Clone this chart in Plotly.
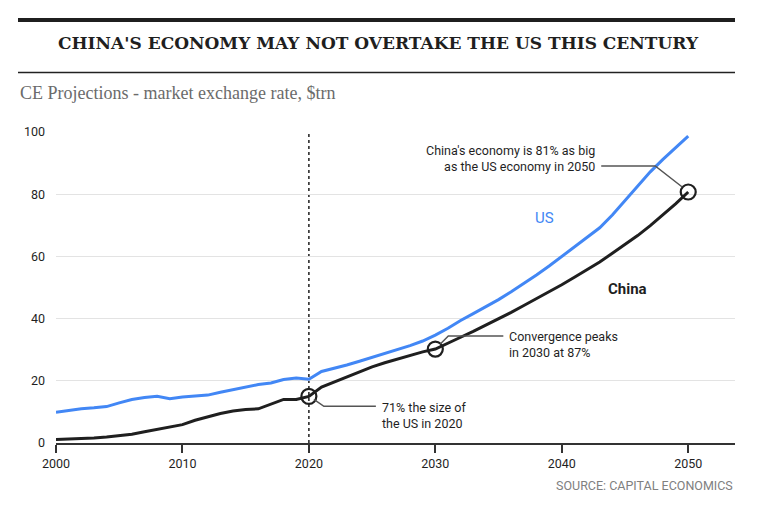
import plotly.graph_objects as go

years = list(range(2000, 2051))
us = [9.9, 10.5, 11.0, 11.3, 11.7, 12.9, 14.0, 14.6, 15.0, 14.2,
      14.8, 15.1, 15.4, 16.3, 17.2, 18.0, 18.8, 19.3, 20.4, 20.9,
      20.5, 23.0, 24.0, 25.1, 26.3, 27.5, 28.8, 30.0, 31.3, 32.8,
      34.7, 36.9, 39.4, 41.6, 43.8, 46.1, 48.6, 51.2, 54.0, 56.9,
      59.9, 63.0, 66.0, 69.2, 73.3, 77.9, 82.6, 87.2, 91.2, 95.0, 98.7]
china = [1.1, 1.2, 1.4, 1.6, 1.9, 2.3, 2.8, 3.6, 4.4, 5.0,
         5.9, 7.3, 8.5, 9.5, 10.3, 10.8, 11.0, 12.4, 14.0, 14.0,
         15.0, 18.0, 19.6, 21.2, 23.0, 24.5, 25.8, 27.0, 28.3, 29.3,
         30.2, 32.0, 34.0, 35.9, 37.9, 39.9, 42.0, 44.2, 46.4, 48.6,
         50.9, 53.3, 55.7, 58.2, 61.0, 63.8, 66.7, 69.9, 73.3, 76.9, 80.7]
highlight_years = [2020, 2030, 2050]
y_ticks = [0, 20, 40, 60, 80, 100]
x_ticks = [2000, 2010, 2020, 2030, 2040, 2050]

BLUE = "#4287f5"
DARK = "#1f1f1f"
SANS = "Roboto, sans-serif"

fig = go.Figure()
fig.add_trace(go.Scatter(x=years, y=us, mode="lines", line=dict(color=BLUE, width=3), hoverinfo="skip"))
fig.add_trace(go.Scatter(x=years, y=china, mode="lines", line=dict(color=DARK, width=3), hoverinfo="skip"))
hl_vals = [china[years.index(y)] for y in highlight_years]
fig.add_trace(go.Scatter(x=highlight_years, y=hl_vals, mode="markers",
                         marker=dict(symbol="circle-open", size=15, color=DARK, line=dict(width=2.2, color=DARK)),
                         hoverinfo="skip"))

# vertical dotted line at 2020
fig.add_shape(type="line", xref="x", yref="y", x0=2020, x1=2020, y0=0, y1=100,
              line=dict(color=DARK, width=1.5, dash="dot"), layer="below")

# leader lines (pixel offsets anchored at highlighted points)
def leader(xa, ya, path):
    fig.add_shape(type="path", xref="x", yref="y", xsizemode="pixel", ysizemode="pixel",
                  xanchor=xa, yanchor=ya, path=path, line=dict(color="#555", width=1.5))

leader(2020, hl_vals[0], "M 5 -3 L 15 -10 L 67 -10")
leader(2030, hl_vals[1], "M 5 5 L 13 13 L 68 13")
leader(2050, hl_vals[2], "M -6 5 L -33 26 L -87 26")

ann_font = dict(family=SANS, size=12.5, color=DARK)
fig.add_annotation(xref="x", yref="y", x=2020, y=hl_vals[0], xshift=71, yshift=-19,
                   text="71% the size of<br>the US in 2020", showarrow=False,
                   xanchor="left", yanchor="middle", align="left", font=ann_font)
fig.add_annotation(xref="x", yref="y", x=2030, y=hl_vals[1], xshift=72, yshift=5,
                   text="Convergence peaks<br>in 2030 at 87%", showarrow=False,
                   xanchor="left", yanchor="middle", align="left", font=ann_font)
fig.add_annotation(xref="x", yref="y", x=2050, y=hl_vals[2], xshift=-91, yshift=34,
                   text="China's economy is 81% as big<br>as the US economy in 2050", showarrow=False,
                   xanchor="right", yanchor="middle", align="right", font=ann_font)

# series labels
fig.add_annotation(xref="x", yref="y", x=2038.6, y=72.5, text="US", showarrow=False,
                   font=dict(family=SANS, size=15, color=BLUE))
fig.add_annotation(xref="x", yref="y", x=2045.2, y=49.5, text="<b>China</b>", showarrow=False,
                   font=dict(family=SANS, size=15, color=DARK))

# header (paper coords relative to plot area: top=132px abs, height=311px)
fig.add_shape(type="line", xref="paper", yref="paper", x0=-0.05597, x1=1.0, y0=1.360, y1=1.360,
              line=dict(color=DARK, width=4))
fig.add_shape(type="line", xref="paper", yref="paper", x0=-0.05597, x1=1.0, y0=1.1913, y1=1.1913,
              line=dict(color="#222", width=1.3))
fig.add_annotation(xref="paper", yref="paper", x=0.4749, y=1.286, text="<b>CHINA'S ECONOMY MAY NOT OVERTAKE THE US THIS CENTURY</b>",
                   showarrow=False, xanchor="center", yanchor="middle",
                   font=dict(family="DejaVu Serif", size=17, color=DARK))
fig.add_annotation(xref="paper", yref="paper", x=-0.05597, y=1.125, text="CE Projections - market exchange rate, $trn",
                   showarrow=False, xanchor="left", yanchor="middle",
                   font=dict(family="Liberation Serif", size=18, color="#6b6b6b"))
fig.add_annotation(xref="paper", yref="paper", x=1.0, y=-0.138, text="SOURCE: CAPITAL ECONOMICS",
                   showarrow=False, xanchor="right", yanchor="middle",
                   font=dict(family=SANS, size=12.5, color="#808080"))

# page body has an 8px margin, so the figure is drawn 8px smaller and offset
fig.update_layout(
    width=759, height=504,
    margin=dict(l=48, r=32, t=124, b=69),
    paper_bgcolor="white", plot_bgcolor="white",
    showlegend=False,
    xaxis=dict(range=[2000, 2053.7], tickvals=x_ticks, ticks="outside", ticklen=8, tickcolor="#333",
               tickwidth=1.5, showline=True, linecolor="#333", linewidth=1.5, showgrid=False,
               zeroline=False, tickfont=dict(family=SANS, size=12.5, color=DARK)),
    yaxis=dict(range=[0, 100], tickvals=y_ticks, showgrid=True, gridcolor="#e3e3e3", gridwidth=1.2,
               zeroline=False, showline=False, ticks="", ticklabelstandoff=10,
               tickfont=dict(family=SANS, size=12.5, color=DARK)),
)

fig.write_html("out.html")
